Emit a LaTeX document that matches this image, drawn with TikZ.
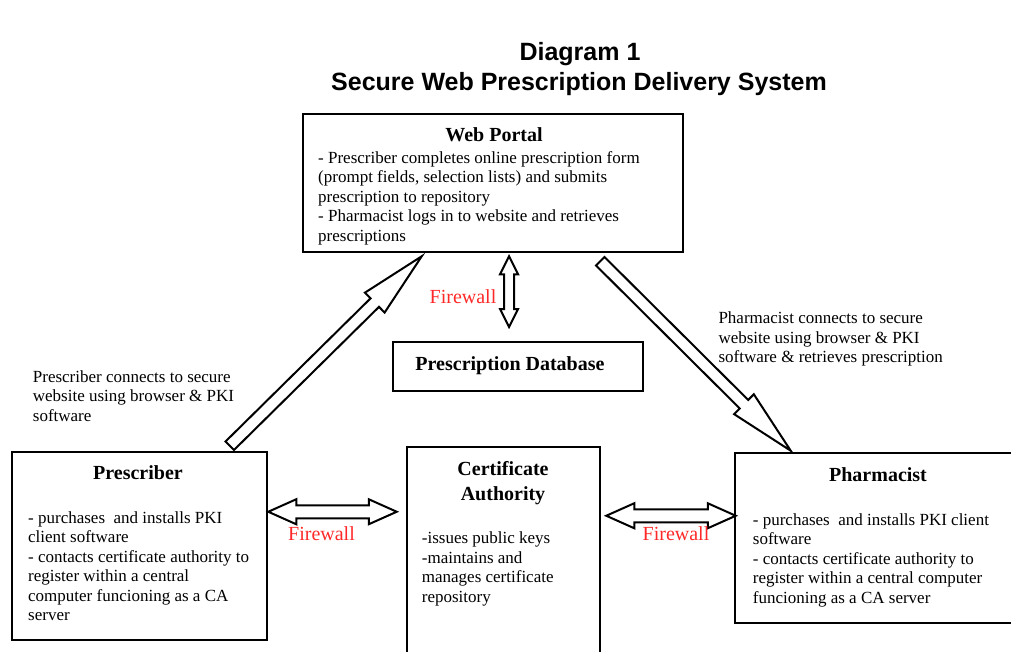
\documentclass[tikz,border=0pt]{standalone}
\usepackage{fontspec}
\setmainfont{Liberation Serif}
\newfontfamily\headfont{Liberation Sans}
\usetikzlibrary{calc}

\tikzset{
  box/.style={draw, line width=2.5pt, inner sep=0pt},
  thinbox/.style={draw, line width=2pt, inner sep=0pt},
  boxtitle/.style={font=\bfseries\fontsize{20}{25}\selectfont, anchor=base, inner sep=0pt},
  body/.style={font=\fontsize{17}{19.5}\selectfont, align=left, anchor=north west, inner sep=0pt},
  firewall/.style={font=\fontsize{20}{24}\selectfont, text=fwred, anchor=base, inner sep=0pt},
  heading/.style={font=\headfont\bfseries\fontsize{25}{30}\selectfont, anchor=base, inner sep=0pt},
  arrowline/.style={draw, fill=white, line width=2pt, line join=miter}
}
\definecolor{fwred}{RGB}{255,40,40}

% block arrow from tail #1 to tip #2; #3 shaft half width, #4 head length, #5 head half width
\newcommand\blockarrow[5]{%
  \path[arrowline]
    ($(#1)!#3!90:(#2)$) --
    ($(#2)!#4!(#1)!#3!90:(#2)$) --
    ($(#2)!#4!(#1)!#5!90:(#2)$) --
    (#2) --
    ($(#2)!#4!(#1)!#5!-90:(#2)$) --
    ($(#2)!#4!(#1)!#3!-90:(#2)$) --
    ($(#1)!#3!-90:(#2)$) -- cycle;}

% block arrow with heads at both ends #1 and #2
\newcommand\twowayarrow[5]{%
  \path[arrowline]
    (#1) --
    ($(#1)!#4!(#2)!#5!90:(#2)$) --
    ($(#1)!#4!(#2)!#3!90:(#2)$) --
    ($(#2)!#4!(#1)!#3!-90:(#1)$) --
    ($(#2)!#4!(#1)!#5!-90:(#1)$) --
    (#2) --
    ($(#2)!#4!(#1)!#5!90:(#1)$) --
    ($(#2)!#4!(#1)!#3!90:(#1)$) --
    ($(#1)!#4!(#2)!#3!-90:(#2)$) --
    ($(#1)!#4!(#2)!#5!-90:(#2)$) -- cycle;}

\newcommand\firstline{\rule{0pt}{14pt}}

\begin{document}
\begin{tikzpicture}[x=1pt, y=-1pt]
\useasboundingbox (0,0) rectangle (1011,652);
\clip (0,0) rectangle (1011,652);

% heading
\node[heading] (h1) at (580,61) {Diagram 1};
\node[heading] (h2) at (579,91) {Secure Web Prescription Delivery System};

% boxes
\node[box, minimum width=380pt, minimum height=138pt] (portal) at (493,183) {};
\node[thinbox, minimum width=250pt, minimum height=49pt] (db) at (518,366.5) {};
\node[box, minimum width=255pt, minimum height=188pt] (presc) at (139.5,546) {};
\node[box, minimum width=193pt, minimum height=253pt] (ca) at (503.5,573.5) {};
\node[box, minimum width=305pt, minimum height=170pt] (pharm) at (887.5,538) {};

% box texts
\node[boxtitle] (portalt) at (494,142) {Web Portal};
\node[body] (portalb) at (318,149) {\firstline- Prescriber completes online prescription form\\(prompt fields, selection lists) and submits\\prescription to repository\\- Pharmacist logs in to website and retrieves\\prescriptions};

\node[boxtitle] (dbt) at (510,370) {Prescription Database};

\node[boxtitle] (presct) at (138,479) {Prescriber};
\node[body] (prescb) at (28,509) {\firstline- purchases\ \ and installs PKI\\client software\\- contacts certificate authority to\\register within a central\\computer funcioning as a CA\\server};

\node[boxtitle, anchor=north, align=center] (cat) at (503,459) {\rule{0pt}{16pt}Certificate\\Authority};
\node[body] (cab) at (421.7,529.3) {\firstline-issues public keys\\-maintains and\\manages certificate\\repository};

\node[boxtitle] (pharmt) at (878,481.7) {Pharmacist};
\node[body] (pharmb) at (752.7,511) {\firstline- purchases\ \ and installs PKI client\\software\\- contacts certificate authority to\\register within a central computer\\funcioning as a CA server};

% connector labels
\node[body] (lprsc) at (32.7,368) {\firstline Prescriber connects to secure\\website using browser \& PKI\\software};
\node[body] (lphm) at (718.3,309.3) {\firstline Pharmacist connects to secure\\website using browser \& PKI\\software \& retrieves prescription};

% arrow end points
\coordinate (a1t) at ($(presc.north west)+(219,-5)$);
\coordinate (a1h) at ($(portal.south west)+(120,3)$);
\coordinate (a2t) at ($(portal.south east)+(-84,8)$);
\coordinate (a2h) at ($(pharm.north west)+(57,-1)$);
\coordinate (v1) at ($(portal.south)+(16,3)$);
\coordinate (v2) at ($(db.north)+(-9,-14)$);
\coordinate (l1) at ($(presc.north east)+(0,61)$);
\coordinate (l2) at ($(ca.north west)+(-9,66)$);
\coordinate (r1) at ($(ca.north east)+(5,70)$);
\coordinate (r2) at ($(pharm.north west)+(2,64)$);

% connectors
\blockarrow{a1t}{a1h}{6pt}{66pt}{14pt}
\blockarrow{a2t}{a2h}{6pt}{66pt}{14pt}
\twowayarrow{v1}{v2}{5pt}{18pt}{9pt}
\twowayarrow{l1}{l2}{6.5pt}{28pt}{12.5pt}
\twowayarrow{r1}{r2}{6.5pt}{28pt}{12.5pt}

% firewall labels
\node[firewall] (fw1) at (463,303) {Firewall};
\node[firewall] (fw2) at (321.5,540) {Firewall};
\node[firewall] (fw3) at (676,540) {Firewall};
\end{tikzpicture}
\end{document}
